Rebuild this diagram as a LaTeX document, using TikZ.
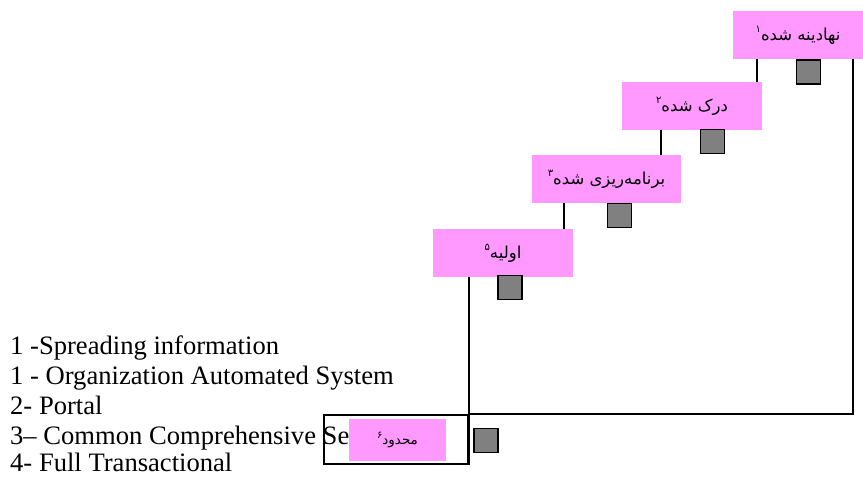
\documentclass[tikz,border=0pt]{standalone}
\usepackage{fontspec}
\setmainfont{Liberation Serif}
\newfontfamily\arabicfont[Script=Arabic]{DejaVu Sans}
\TeXXeTstate=1
\definecolor{boxpink}{HTML}{FF99FF}
\definecolor{sqgray}{HTML}{808080}
\newcommand\persup[1]{\raisebox{0.9ex}{\fontsize{10}{10}\selectfont #1}}
\begin{document}
\begin{tikzpicture}[x=1pt,y=-1pt,
  pbox/.style={fill=boxpink, inner sep=0, minimum height=48pt, font=\arabicfont\fontsize{16.5}{18}\selectfont},
  sqbox/.style={draw=black, fill=sqgray, line width=1.6pt, minimum size=24pt, inner sep=0},
  conn/.style={line width=1.6pt},
  lbl/.style={anchor=base west, inner sep=0, font=\fontsize{26.6}{30}\selectfont}]
\fill[white] (0,0) rectangle (863,477);
\useasboundingbox (0,0) rectangle (863,477);
% legend text
\node[lbl] (t1) at (10,354) {1 -Spreading information};
\node[lbl] (t2) at (10,384) {1 - Organization Automated System};
\node[lbl] (t3) at (10,414) {2- Portal};
\node[lbl] (t4) at (10,444) {3– Common Comprehensive Se};
\node[lbl] (t5) at (10,471.5) {4- Full Transactional};
% frame
\node[draw, line width=1.6pt, minimum width=144pt, minimum height=49pt, inner sep=0] (frame) at (396,439.5) {};
% coordinates for vertical connectors
\coordinate (x1) at (757,0);
\coordinate (x2) at (661,0);
\coordinate (x3) at (564,0);
\coordinate (x5) at (853,0);
% pink boxes
\node[pbox, minimum width=130pt] (b1) at (798,35) {\beginR نهادینه شده\persup{۱}\endR};
\node[pbox, minimum width=140pt] (b2) at (692,106) {\beginR درک شده\persup{۲}\endR};
\node[pbox, minimum width=149pt] (b3) at (606.5,179) {\beginR برنامه‌ریزی شده\persup{۳}\endR};
\node[pbox, minimum width=140pt] (b4) at (503,253) {\beginR اولیه\persup{۵}\endR};
\node[pbox, minimum width=97pt, minimum height=42pt, font=\arabicfont\fontsize{13.5}{15}\selectfont] (b5) at (397.5,440) {\beginR محدود\persup{۶}\endR};
% connectors
\draw[conn] (b1.south -| x1) -- (b2.north -| x1);
\draw[conn] (b2.south -| x2) -- (b3.north -| x2);
\draw[conn] (b3.south -| x3) -- (b4.north -| x3);
\draw[conn] (b4.south -| frame.east) -- (frame.south east);
\draw[conn] (b1.south -| x5) |- (frame.north east);
% gray squares
\node[sqbox] (s1) at (808.5,72) {};
\node[sqbox] (s2) at (712.5,141.5) {};
\node[sqbox] (s3) at (619.5,215.5) {};
\node[sqbox] (s4) at (510,287.5) {};
\node[sqbox] (s5) at (486,440.5) {};
\end{tikzpicture}
\end{document}
